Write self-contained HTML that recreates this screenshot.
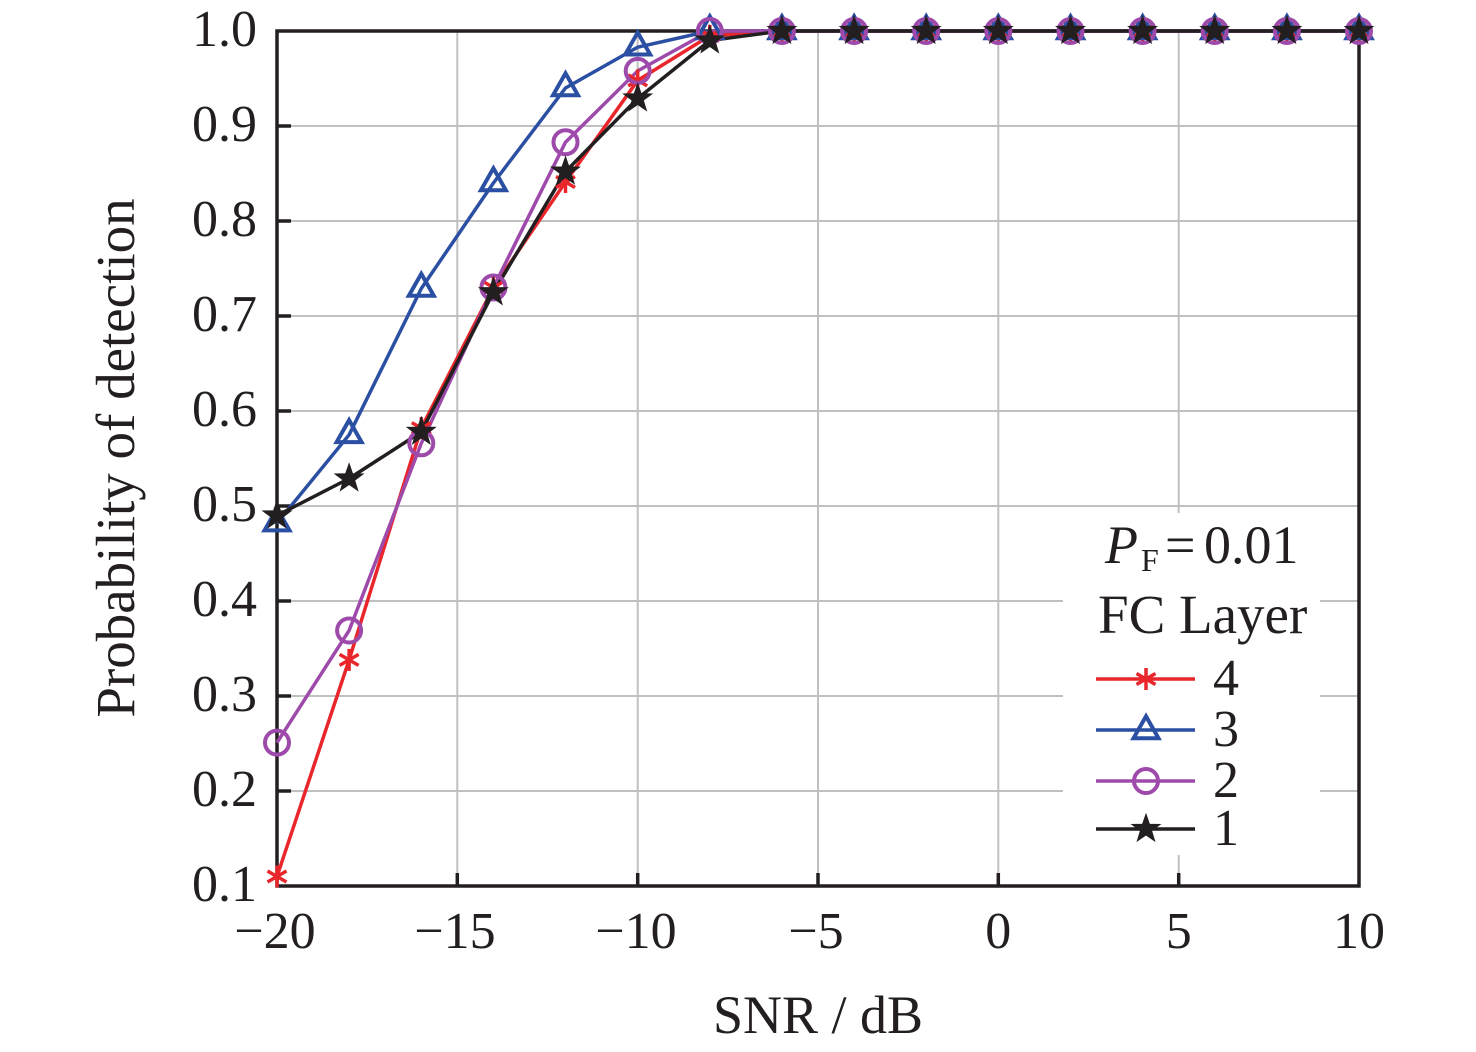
<!DOCTYPE html>
<html>
<head>
<meta charset="utf-8">
<style>
html,body{margin:0;padding:0;background:#fff;}
svg{display:block;}
text{font-family:"Liberation Serif","DejaVu Serif",serif;fill:#231f20;}
</style>
</head>
<body>
<svg width="1476" height="1052" viewBox="0 0 1476 1052" xmlns="http://www.w3.org/2000/svg">
<defs>
  <path id="star" d="M0,-14 L3.3,-4.5 L13.3,-4.3 L5.3,1.7 L8.2,11.3 L0,5.6 L-8.2,11.3 L-5.3,1.7 L-13.3,-4.3 L-3.3,-4.5 Z" fill="#231f20" stroke="#231f20" stroke-width="1.5" stroke-linejoin="miter"/>
  <path id="tri" d="M0,-14.7 L12.5,7.3 L-12.5,7.3 Z" fill="none" stroke="#2b4fa2" stroke-width="4" stroke-linejoin="miter"/>
  <circle id="circ" cx="0" cy="0" r="12" fill="none" stroke="#9d4aab" stroke-width="4"/>
  <g id="ast" stroke="#e8262b" stroke-width="3.5">
    <line x1="0" y1="-11" x2="0" y2="11"/>
    <line x1="-9.5" y1="-5.5" x2="9.5" y2="5.5"/>
    <line x1="-9.5" y1="5.5" x2="9.5" y2="-5.5"/>
  </g>
</defs>

<!-- grid -->
<g stroke="#c0c0c0" stroke-width="2">
  <line x1="457.3" y1="31" x2="457.3" y2="886"/>
  <line x1="637.7" y1="31" x2="637.7" y2="886"/>
  <line x1="818" y1="31" x2="818" y2="886"/>
  <line x1="998.3" y1="31" x2="998.3" y2="886"/>
  <line x1="1178.7" y1="31" x2="1178.7" y2="886"/>
  <line x1="277" y1="126" x2="1359" y2="126"/>
  <line x1="277" y1="221" x2="1359" y2="221"/>
  <line x1="277" y1="316" x2="1359" y2="316"/>
  <line x1="277" y1="411" x2="1359" y2="411"/>
  <line x1="277" y1="506" x2="1359" y2="506"/>
  <line x1="277" y1="601" x2="1359" y2="601"/>
  <line x1="277" y1="696" x2="1359" y2="696"/>
  <line x1="277" y1="791" x2="1359" y2="791"/>
</g>

<!-- legend background -->
<rect x="1063" y="513" width="257" height="342" fill="#fff"/>

<!-- axes -->
<g stroke="#231f20" stroke-width="3.5" fill="none">
  <rect x="277" y="31" width="1082" height="855"/>
</g>
<g stroke="#231f20" stroke-width="3.5">
  <line x1="277" y1="126" x2="291" y2="126"/>
  <line x1="277" y1="221" x2="291" y2="221"/>
  <line x1="277" y1="316" x2="291" y2="316"/>
  <line x1="277" y1="411" x2="291" y2="411"/>
  <line x1="277" y1="506" x2="291" y2="506"/>
  <line x1="277" y1="601" x2="291" y2="601"/>
  <line x1="277" y1="696" x2="291" y2="696"/>
  <line x1="277" y1="791" x2="291" y2="791"/>
  <line x1="457.3" y1="886" x2="457.3" y2="873"/>
  <line x1="637.7" y1="886" x2="637.7" y2="873"/>
  <line x1="818" y1="886" x2="818" y2="873"/>
  <line x1="998.3" y1="886" x2="998.3" y2="873"/>
  <line x1="1178.7" y1="886" x2="1178.7" y2="873"/>
</g>

<!-- y tick labels -->
<g font-size="52" text-anchor="end">
  <text x="257" y="46">1.0</text>
  <text x="257" y="141">0.9</text>
  <text x="257" y="236">0.8</text>
  <text x="257" y="331">0.7</text>
  <text x="257" y="426">0.6</text>
  <text x="257" y="521">0.5</text>
  <text x="257" y="616">0.4</text>
  <text x="257" y="711">0.3</text>
  <text x="257" y="806">0.2</text>
  <text x="257" y="901">0.1</text>
</g>
<!-- x tick labels -->
<g font-size="52" text-anchor="middle">
  <text x="275" y="948">−20</text>
  <text x="455" y="948">−15</text>
  <text x="636" y="948">−10</text>
  <text x="816" y="948">−5</text>
  <text x="998.3" y="948">0</text>
  <text x="1178.7" y="948">5</text>
  <text x="1359" y="948">10</text>
</g>

<!-- axis labels -->
<text x="818" y="1033" font-size="54" text-anchor="middle">SNR / dB</text>
<text transform="translate(134,458) rotate(-90)" x="0" y="0" font-size="55" text-anchor="middle">Probability of detection</text>

<!-- series 4 (red) -->
<polyline fill="none" stroke="#e8262b" stroke-width="3.5" stroke-linejoin="round"
  points="277,876.5 349.1,659.9 421.3,428.1 493.4,287.5 565.5,182 637.7,80.4 709.8,35.8 781.9,31 854.1,31 926.2,31 998.3,31 1070.5,31 1142.6,31 1214.7,31 1286.9,31 1359,31"/>
<!-- series 3 (blue) -->
<polyline fill="none" stroke="#2b4fa2" stroke-width="3.5" stroke-linejoin="round"
  points="277,523.1 349.1,434.8 421.3,288.5 493.4,183 565.5,88 637.7,47.2 709.8,31 781.9,31 854.1,31 926.2,31 998.3,31 1070.5,31 1142.6,31 1214.7,31 1286.9,31 1359,31"/>
<!-- series 2 (purple) -->
<polyline fill="none" stroke="#9d4aab" stroke-width="3.5" stroke-linejoin="round"
  points="277,742.6 349.1,630.5 421.3,443.3 493.4,287.5 565.5,142.2 637.7,70.9 709.8,31 781.9,31 854.1,31 926.2,31 998.3,31 1070.5,31 1142.6,31 1214.7,31 1286.9,31 1359,31"/>
<!-- series 1 (black) -->
<polyline fill="none" stroke="#231f20" stroke-width="3.5" stroke-linejoin="round"
  points="277,515.5 349.1,478.5 421.3,431.9 493.4,292.3 565.5,171.6 637.7,98.5 709.8,40.5 781.9,31 854.1,31 926.2,31 998.3,31 1070.5,31 1142.6,31 1214.7,31 1286.9,31 1359,31"/>

<!-- markers red -->
<g>
  <use href="#ast" x="277" y="876.5"/><use href="#ast" x="349.1" y="659.9"/><use href="#ast" x="421.3" y="428.1"/>
  <use href="#ast" x="493.4" y="287.5"/><use href="#ast" x="565.5" y="182"/><use href="#ast" x="637.7" y="80.4"/>
  <use href="#ast" x="709.8" y="35.8"/><use href="#ast" x="781.9" y="31"/><use href="#ast" x="854.1" y="31"/>
  <use href="#ast" x="926.2" y="31"/><use href="#ast" x="998.3" y="31"/><use href="#ast" x="1070.5" y="31"/>
  <use href="#ast" x="1142.6" y="31"/><use href="#ast" x="1214.7" y="31"/><use href="#ast" x="1286.9" y="31"/>
  <use href="#ast" x="1359" y="31"/>
</g>
<!-- markers blue -->
<g>
  <use href="#tri" x="277" y="523.1"/><use href="#tri" x="349.1" y="434.8"/><use href="#tri" x="421.3" y="288.5"/>
  <use href="#tri" x="493.4" y="183"/><use href="#tri" x="565.5" y="88"/><use href="#tri" x="637.7" y="47.2"/>
  <use href="#tri" x="709.8" y="31"/><use href="#tri" x="781.9" y="31"/><use href="#tri" x="854.1" y="31"/>
  <use href="#tri" x="926.2" y="31"/><use href="#tri" x="998.3" y="31"/><use href="#tri" x="1070.5" y="31"/>
  <use href="#tri" x="1142.6" y="31"/><use href="#tri" x="1214.7" y="31"/><use href="#tri" x="1286.9" y="31"/>
  <use href="#tri" x="1359" y="31"/>
</g>
<!-- markers purple -->
<g>
  <use href="#circ" x="277" y="742.6"/><use href="#circ" x="349.1" y="630.5"/><use href="#circ" x="421.3" y="443.3"/>
  <use href="#circ" x="493.4" y="287.5"/><use href="#circ" x="565.5" y="142.2"/><use href="#circ" x="637.7" y="70.9"/>
  <use href="#circ" x="709.8" y="31"/><use href="#circ" x="781.9" y="31"/><use href="#circ" x="854.1" y="31"/>
  <use href="#circ" x="926.2" y="31"/><use href="#circ" x="998.3" y="31"/><use href="#circ" x="1070.5" y="31"/>
  <use href="#circ" x="1142.6" y="31"/><use href="#circ" x="1214.7" y="31"/><use href="#circ" x="1286.9" y="31"/>
  <use href="#circ" x="1359" y="31"/>
</g>
<!-- markers black -->
<g>
  <use href="#star" x="277" y="515.5"/><use href="#star" x="349.1" y="478.5"/><use href="#star" x="421.3" y="431.9"/>
  <use href="#star" x="493.4" y="292.3"/><use href="#star" x="565.5" y="171.6"/><use href="#star" x="637.7" y="98.5"/>
  <use href="#star" x="709.8" y="40.5"/><use href="#star" x="781.9" y="31"/><use href="#star" x="854.1" y="31"/>
  <use href="#star" x="926.2" y="31"/><use href="#star" x="998.3" y="31"/><use href="#star" x="1070.5" y="31"/>
  <use href="#star" x="1142.6" y="31"/><use href="#star" x="1214.7" y="31"/><use href="#star" x="1286.9" y="31"/>
  <use href="#star" x="1359" y="31"/>
</g>

<!-- legend -->
<text x="1105" y="563" font-size="54"><tspan font-style="italic">P</tspan><tspan font-size="32" dx="3" dy="8">F</tspan></text>
<text x="1165" y="563" font-size="54">=</text>
<text x="1204" y="563" font-size="54">0.01</text>
<text x="1098" y="633" font-size="55">FC Layer</text>

<line x1="1096" y1="679" x2="1195" y2="679" stroke="#e8262b" stroke-width="3.5"/>
<use href="#ast" x="1146" y="679"/>
<text x="1213" y="695" font-size="52">4</text>

<line x1="1096" y1="730" x2="1195" y2="730" stroke="#2b4fa2" stroke-width="3.5"/>
<use href="#tri" x="1146" y="731"/>
<text x="1213" y="746" font-size="52">3</text>

<line x1="1096" y1="781" x2="1195" y2="781" stroke="#9d4aab" stroke-width="3.5"/>
<use href="#circ" x="1146" y="781"/>
<text x="1213" y="797" font-size="52">2</text>

<line x1="1096" y1="829" x2="1195" y2="829" stroke="#231f20" stroke-width="3.5"/>
<use href="#star" x="1146" y="829"/>
<text x="1213" y="845" font-size="52">1</text>
</svg>
</body>
</html>
